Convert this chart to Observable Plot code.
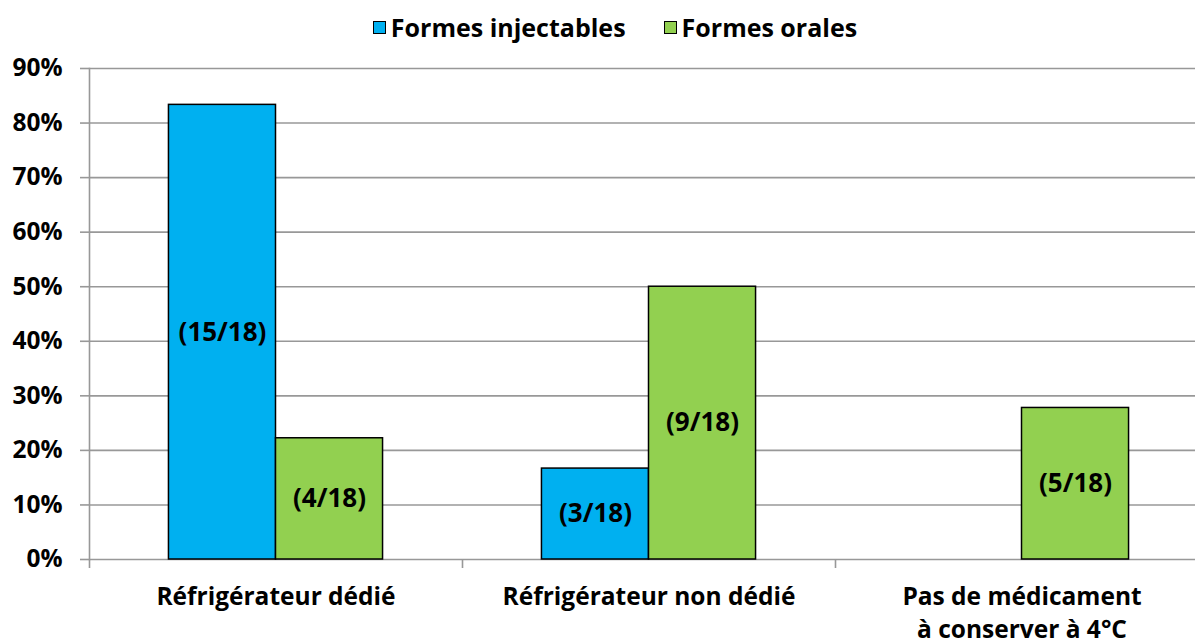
<!DOCTYPE html>
<html><head><meta charset="utf-8">
<script src="https://cdn.jsdelivr.net/npm/d3@7"></script>
<script src="https://cdn.jsdelivr.net/npm/@observablehq/plot@0.6"></script>
<style>
html,body{margin:0;padding:0;background:#fff;overflow:hidden;width:1195px;height:644px;}
body{font-family:"Open Sans",Lato,sans-serif;}
#legend{height:44px;padding-top:10px;display:flex;justify-content:center;align-items:center;font-weight:bold;font-size:25px;line-height:34px;color:#000;padding-left:35px;box-sizing:border-box;}
.item{display:flex;align-items:center;margin:0 19px;}
.sw{width:11px;height:11px;border:1px solid #000;margin-right:5px;}
#chart svg{display:block;}
</style></head><body>
<div id="legend"></div>
<div id="chart"></div>
<script>
const categories = ["Réfrigérateur dédié", "Réfrigérateur non dédié", "Pas de médicament\nà conserver à 4°C"];
const series = ["Formes injectables", "Formes orales"];
const injectables = [15, 3, 0];
const orales = [4, 9, 5];
const total = 18;
const colors = ["#00B0F0", "#92D050"];
const yTicks = [0, 0.1, 0.2, 0.3, 0.4, 0.5, 0.6, 0.7, 0.8, 0.9];

const rows = categories.flatMap((c, i) => [
  {cat: c, series: series[0], n: injectables[i], value: injectables[i] / total},
  {cat: c, series: series[1], n: orales[i], value: orales[i] / total}
]);

// legend
const legend = document.getElementById("legend");
series.forEach((s, i) => {
  const it = document.createElement("div");
  it.className = "item";
  const sw = document.createElement("div");
  sw.className = "sw";
  sw.style.background = colors[i];
  const t = document.createElement("span");
  t.textContent = s;
  it.appendChild(sw); it.appendChild(t);
  legend.appendChild(it);
});

const W = 1195, H = 600;
const mL = 89, mR = -13;
const step = (W - mR - mL) / categories.length;
const barW = step * 0.287;
const grid = "#989898";
const font = {fontSize: 24.5, fontWeight: "bold", fill: "#000"};
const labelFont = {fontSize: 26, fontWeight: "bold", fill: "#000"};

const chart = Plot.plot({
  width: W, height: H,
  marginTop: 24, marginBottom: 85, marginLeft: mL, marginRight: mR,
  style: {fontFamily: "'Open Sans', Lato, sans-serif", background: "#fff", color: "#000", overflow: "hidden"},
  x: {domain: categories, padding: 0, label: null},
  y: {domain: [0, 0.9], label: null},
  marks: [
    Plot.ruleY(yTicks, {stroke: grid, strokeWidth: 1.6}),
    Plot.frame({anchor: "left", stroke: grid, strokeWidth: 1.6}),
    Plot.ruleX(categories, {x: d => d, dx: -step / 2, y1: 0, y2: 0, insetBottom: -9, stroke: grid, strokeWidth: 1.6}),
    Plot.axisY(yTicks, {tickSize: 9, tickPadding: 18, tickFormat: d3.format(".0%"), stroke: grid, strokeWidth: 1.6, ...font}),
    Plot.axisX({tickSize: 0, tickPadding: 22, lineHeight: 1.35, ...font}),
    Plot.barY(rows.filter(d => d.series === series[0] && d.n > 0), {
      x: "cat", y: "value", fill: colors[0], stroke: "#000", strokeWidth: 1.5,
      insetLeft: step / 2 - barW, insetRight: step / 2
    }),
    Plot.barY(rows.filter(d => d.series === series[1] && d.n > 0), {
      x: "cat", y: "value", fill: colors[1], stroke: "#000", strokeWidth: 1.5,
      insetLeft: step / 2, insetRight: step / 2 - barW
    }),
    Plot.text(rows.filter(d => d.series === series[0] && d.n > 0), {
      x: "cat", y: d => d.value / 2, dx: -barW / 2,
      text: d => `(${d.n}/${total})`, ...labelFont
    }),
    Plot.text(rows.filter(d => d.series === series[1] && d.n > 0), {
      x: "cat", y: d => d.value / 2, dx: barW / 2,
      text: d => `(${d.n}/${total})`, ...labelFont
    })
  ]
});
document.getElementById("chart").appendChild(chart);
</script>
</body></html>
